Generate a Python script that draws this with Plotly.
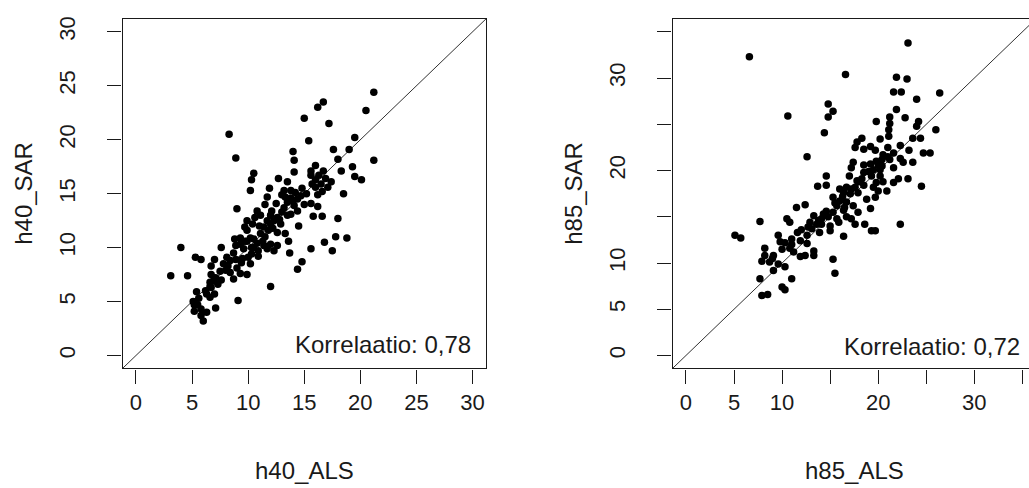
import plotly.graph_objects as go

# ---- data: left panel (h40) ----
h40_ALS = [21.2, 16.7, 16.2, 20.5, 15.0, 17.2, 8.3, 19.5, 15.4, 19.0, 17.6, 14.0, 8.9, 14.1, 18.0,
           21.2, 16.0, 19.3, 18.3, 14.1, 15.6, 16.7, 10.5, 10.3, 12.7, 13.5, 15.6, 16.3, 16.9, 19.5,
           20.1, 17.4, 16.5, 16.0, 10.2, 11.9, 13.2, 13.8, 14.2, 16.6, 16.2, 18.5, 11.7, 13.3, 14.4,
           13.5, 12.5, 11.5, 14.1, 15.6, 16.2, 9.0, 10.8, 12.1, 13.0, 15.8, 16.6, 18.0, 9.9, 11.1,
           11.7, 12.6, 10.4, 11.4, 12.0, 14.5, 12.6, 13.3, 9.3, 9.7, 10.5, 11.3, 12.0, 12.6, 13.6,
           17.8, 18.8, 16.8, 4.0, 7.6, 8.9, 9.6, 10.3, 10.9, 11.7, 12.3, 13.7, 15.6, 17.5, 8.7,
           10.0, 10.9, 5.3, 5.8, 7.0, 8.4, 9.4, 10.2, 14.8, 6.7, 8.2, 9.0, 14.4, 7.5, 8.4,
           9.3, 9.9, 3.1, 4.6, 6.7, 7.1, 8.7, 6.6, 7.3, 12.0, 6.7, 5.4, 7.0, 6.6, 5.1,
           5.5, 9.1, 5.8, 7.1, 5.8, 6.0, 5.2, 6.3, 9.3, 10.2, 11.1, 11.8, 12.9, 13.8, 14.4,
           15.0, 13.2, 12.3, 9.9, 7.8, 8.1, 6.3, 5.2, 15.7, 17.1, 14.7, 10.6, 9.7, 8.8, 6.6,
           10.5, 10.8, 11.5, 12.2, 12.8, 13.5, 14.0, 14.8, 13.0, 11.0, 9.5, 8.9, 8.0, 7.6, 6.9,
           6.2, 5.6, 9.9, 12.0, 13.8, 15.2, 16.0, 10.3, 11.4]
h40_SAR = [24.4, 23.5, 23.0, 22.7, 22.0, 21.5, 20.5, 20.2, 19.9, 19.1, 19.1, 18.9, 18.3, 18.1, 18.2,
           18.1, 17.6, 17.5, 17.1, 17.0, 17.1, 17.1, 16.9, 16.3, 16.4, 16.1, 16.7, 16.7, 16.4, 16.6,
           16.3, 16.1, 15.9, 15.6, 15.3, 15.5, 15.3, 15.3, 15.1, 15.2, 14.9, 15.0, 14.7, 14.7, 14.5,
           14.2, 14.1, 14.0, 13.9, 14.1, 13.8, 13.6, 13.4, 13.4, 13.3, 12.9, 12.9, 12.7, 12.5, 13.0,
           12.5, 12.8, 12.2, 11.9, 12.2, 12.0, 11.4, 11.3, 10.9, 10.6, 10.8, 10.6, 10.3, 10.2, 10.6,
           11.0, 10.9, 10.5, 10.0, 10.0, 10.2, 9.9, 10.0, 9.7, 9.9, 9.7, 9.5, 9.9, 9.7, 9.5,
           9.1, 9.2, 9.1, 8.9, 8.9, 8.8, 8.6, 8.5, 8.7, 8.3, 8.3, 8.1, 8.0, 7.8, 7.7,
           7.6, 7.5, 7.4, 7.4, 7.5, 7.2, 7.1, 6.8, 6.6, 6.4, 6.3, 5.9, 5.7, 5.4, 5.0,
           4.7, 5.1, 4.3, 4.4, 3.7, 3.2, 4.7, 4.0, 10.3, 10.9, 11.3, 11.6, 12.2, 13.1, 13.4,
           14.0, 13.7, 12.5, 11.6, 8.5, 9.1, 5.7, 4.1, 15.9, 15.6, 14.8, 12.8, 11.9, 10.8, 6.4,
           10.0, 10.4, 11.0, 11.8, 12.6, 13.0, 14.4, 15.5, 14.9, 12.0, 9.0, 8.9, 7.9, 7.0, 6.9,
           6.0, 5.3, 10.6, 13.0, 14.6, 15.0, 16.3, 9.4, 10.2]

# ---- data: right panel (h85) ----
h85_ALS = [6.6, 23.1, 16.6, 21.9, 23.0, 21.6, 22.4, 26.4, 24.0, 14.8, 15.3, 14.8, 10.6, 21.9, 21.2,
           22.8, 19.8, 21.2, 24.2, 21.1, 24.0, 26.0, 14.4, 21.1, 18.3, 20.2, 23.6, 24.4, 17.8, 17.6,
           19.2, 22.3, 19.7, 23.2, 24.7, 25.4, 12.6, 20.5, 21.6, 21.2, 22.3, 20.4, 17.4, 18.5, 19.2,
           20.0, 22.6, 23.6, 17.2, 19.5, 20.2, 21.6, 18.5, 17.0, 14.6, 19.3, 20.2, 22.1, 23.1, 20.5,
           21.6, 13.7, 14.6, 24.5, 16.7, 17.6, 18.5, 19.5, 20.0, 20.9, 16.4, 17.1, 17.9, 15.3, 19.7,
           16.0, 16.7, 18.8, 15.7, 17.4, 12.4, 11.5, 19.2, 14.3, 15.3, 16.4, 17.9, 13.3, 14.1, 14.8,
           15.7, 16.7, 10.5, 7.7, 12.9, 13.6, 17.6, 18.6, 22.3, 10.8, 13.1, 15.0, 19.3, 19.7, 11.6,
           13.9, 12.6, 5.1, 5.7, 9.6, 16.4, 11.9, 10.3, 11.0, 12.6, 9.8, 8.2, 11.2, 13.3, 11.9,
           13.3, 8.2, 7.9, 8.7, 15.3, 9.6, 10.3, 9.1, 15.5, 7.7, 11.0, 10.0, 10.3, 7.9, 8.5,
           12.4, 14.1, 16.0, 18.3, 19.8, 20.4, 18.5, 15.9, 10.8, 9.1, 17.2, 12.7,
           13.8, 14.6, 15.5, 16.3, 17.2, 18.0, 19.0, 20.0, 21.0, 12.0, 11.0, 10.0, 9.0, 17.8,
           19.8, 21.0, 15.0, 16.5]
h85_SAR = [32.3, 33.8, 30.4, 30.1, 29.9, 28.5, 28.5, 28.4, 27.7, 27.2, 26.4, 25.8, 25.9, 26.6, 25.8,
           25.7, 25.3, 25.1, 25.3, 24.4, 24.8, 24.4, 24.1, 23.7, 23.5, 23.4, 23.5, 23.5, 23.1, 22.5,
           22.6, 22.7, 22.2, 22.2, 21.9, 21.9, 21.5, 21.7, 21.9, 21.2, 21.3, 21.2, 20.9, 20.6, 20.7,
           20.9, 20.9, 20.9, 20.3, 20.1, 20.1, 20.3, 19.8, 19.4, 19.4, 19.4, 19.4, 19.1, 19.1, 18.8,
           18.7, 18.3, 18.4, 18.3, 18.2, 18.2, 18.4, 18.2, 17.8, 17.8, 17.6, 17.5, 17.6, 17.1, 17.1,
           16.7, 16.6, 16.9, 16.2, 16.2, 16.3, 16.0, 15.9, 15.3, 15.5, 15.7, 15.5, 15.1, 14.8, 15.0,
           14.8, 15.0, 14.8, 14.5, 14.4, 14.2, 14.2, 14.2, 14.2, 14.4, 13.7, 13.5, 13.5, 13.5, 13.3,
           13.3, 13.0, 13.0, 12.7, 13.0, 12.9, 12.4, 12.2, 12.0, 12.1, 12.3, 11.6, 11.2, 11.3, 10.7,
           10.8, 10.8, 10.2, 10.1, 10.4, 9.9, 9.6, 9.2, 8.9, 8.3, 8.3, 7.4, 7.1, 6.5, 6.6,
           10.8, 14.2, 18.0, 19.1, 18.7, 20.5, 22.3, 14.4, 11.6, 10.8, 14.8, 13.9,
           14.6, 15.6, 16.5, 17.2, 18.0, 18.8, 19.9, 20.6, 21.5, 13.6, 12.6, 11.5, 10.5, 18.9,
           21.0, 22.5, 14.0, 16.0]

left_ticks = [0, 5, 10, 15, 20, 25, 30]
left_labels = ["0", "5", "10", "15", "20", "25", "30"]
right_ticks = [0, 5, 10, 15, 20, 25, 30, 35]
right_labels = ["0", "5", "10", "", "20", "", "30", ""]
corr_left = "Korrelaatio: 0,78"
corr_right = "Korrelaatio: 0,72"

W, H = 1029, 488
FONT = "Liberation Sans, Arial, sans-serif"
INK = "#1a1a1a"

def px_x(p):
    return p / W

def px_y(p):
    return (H - p) / H

left_lim = [-1.2, 31.2]
right_xlim = [-1.4, 35.69]
right_ylim = [-1.4, 36.4]

fig = go.Figure()

fig.add_trace(go.Scatter(x=left_lim, y=left_lim, mode="lines",
                         line=dict(color=INK, width=0.9), xaxis="x", yaxis="y",
                         hoverinfo="skip", showlegend=False))
fig.add_trace(go.Scatter(x=h40_ALS, y=h40_SAR, mode="markers",
                         marker=dict(color="black", size=7.5, line=dict(width=0)),
                         xaxis="x", yaxis="y", showlegend=False))
fig.add_trace(go.Scatter(x=[right_ylim[0], right_ylim[1]], y=[right_ylim[0], right_ylim[1]], mode="lines",
                         line=dict(color=INK, width=0.9), xaxis="x2", yaxis="y2",
                         hoverinfo="skip", showlegend=False))
fig.add_trace(go.Scatter(x=h85_ALS, y=h85_SAR, mode="markers",
                         marker=dict(color="black", size=7.5, line=dict(width=0)),
                         xaxis="x2", yaxis="y2", showlegend=False))

axis_common = dict(showgrid=False, zeroline=False, showline=True, linecolor=INK, linewidth=1.2,
                   ticks="outside", ticklen=14, tickwidth=1.2, tickcolor=INK,
                   tickfont=dict(family=FONT, size=22, color=INK))

y_dom = [px_y(367.7), px_y(16)]

fig.update_layout(
    width=W, height=H, margin=dict(l=0, r=0, t=0, b=0),
    paper_bgcolor="white", plot_bgcolor="white",
    xaxis=dict(domain=[px_x(122.5), px_x(486)], range=left_lim, tickvals=left_ticks,
               ticktext=left_labels, mirror=True, anchor="y", **axis_common),
    yaxis=dict(domain=y_dom, range=left_lim, tickvals=left_ticks, ticktext=left_labels,
               tickangle=-90, mirror=True, anchor="x", ticklabelstandoff=24, **axis_common),
    xaxis2=dict(domain=[px_x(672.5), 1.0], range=right_xlim, tickvals=right_ticks,
                ticktext=right_labels, mirror=True, anchor="y2", **axis_common),
    yaxis2=dict(domain=y_dom, range=right_ylim, tickvals=right_ticks, ticktext=right_labels,
                tickangle=-90, mirror=False, anchor="x2", ticklabelstandoff=24, **axis_common),
    showlegend=False,
)

ann_font = dict(family=FONT, size=24, color=INK)
fig.add_annotation(x=30, y=1, xref="x", yref="y", text=corr_left, showarrow=False,
                   xanchor="right", yanchor="middle", font=ann_font)
fig.add_annotation(x=35, y=1, xref="x2", yref="y2", text=corr_right, showarrow=False,
                   xanchor="right", yanchor="middle", font=ann_font)

# axis titles
fig.add_annotation(x=px_x(304), y=px_y(470), xref="paper", yref="paper", text="h40_ALS",
                   showarrow=False, xanchor="center", yanchor="middle", font=ann_font)
fig.add_annotation(x=px_x(24), y=px_y(192), xref="paper", yref="paper", text="h40_SAR",
                   showarrow=False, xanchor="center", yanchor="middle", textangle=-90, font=ann_font)
fig.add_annotation(x=px_x(854), y=px_y(470), xref="paper", yref="paper", text="h85_ALS",
                   showarrow=False, xanchor="center", yanchor="middle", font=ann_font)
fig.add_annotation(x=px_x(574), y=px_y(192), xref="paper", yref="paper", text="h85_SAR",
                   showarrow=False, xanchor="center", yanchor="middle", textangle=-90, font=ann_font)

fig.write_html("out.html")
